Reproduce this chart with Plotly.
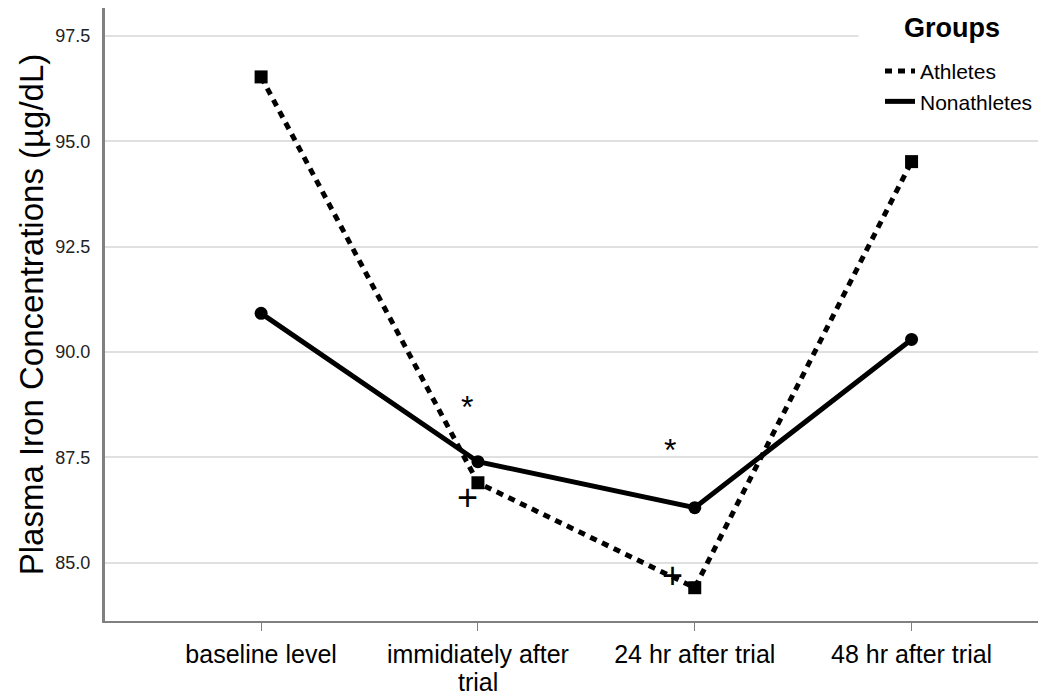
import plotly.graph_objects as go

categories = ["baseline level", "immidiately after trial", "24 hr after trial", "48 hr after trial"]
tick_line1 = ["baseline level", "immidiately after", "24 hr after trial", "48 hr after trial"]
tick_line2 = ["", "trial", "", ""]
athletes = [96.53, 86.9, 84.41, 94.52]
nonathletes = [90.92, 87.4, 86.31, 90.3]
star_pos = [0.95, 1.887]
star_vals = [88.83, 87.81]
plus_pos = [0.95, 1.897]
plus_vals = [86.6, 84.74]
y_ticks = [85.0, 87.5, 90.0, 92.5, 95.0, 97.5]

xi = list(range(len(categories)))
FONT = "Liberation Sans, Arial, sans-serif"

fig = go.Figure()
fig.add_trace(go.Scatter(x=xi, y=athletes, mode="lines", name="Athletes",
                         line=dict(color="black", width=5, dash="7px,6px")))
fig.add_trace(go.Scatter(x=xi, y=nonathletes, mode="lines", name="Nonathletes",
                         line=dict(color="black", width=5)))
fig.add_trace(go.Scatter(x=xi, y=athletes, mode="markers", showlegend=False,
                         marker=dict(symbol="square", size=13, color="black")))
fig.add_trace(go.Scatter(x=xi, y=nonathletes, mode="markers", showlegend=False,
                         marker=dict(symbol="circle", size=13, color="black")))

for cx, cy in zip(star_pos, star_vals):
    fig.add_annotation(x=cx, y=cy, text="*", showarrow=False,
                       font=dict(family=FONT, size=32, color="black"), yshift=-6)
for cx, cy in zip(plus_pos, plus_vals):
    fig.add_annotation(x=cx, y=cy, text="+", showarrow=False,
                       font=dict(family=FONT, size=36, color="black"), yshift=-2)

# second line of wrapped category labels
for i, t in enumerate(tick_line2):
    if t:
        fig.add_annotation(x=i, y=0, xref="x", yref="paper", text=t, showarrow=False,
                           yanchor="middle", yshift=-61, borderpad=0,
                           font=dict(family=FONT, size=25, color="black"))

# legend title
fig.add_annotation(x=1.0, xref="paper", xanchor="right", y=1.0, yref="paper",
                   yanchor="top", yshift=2, text="<b>Groups</b>", showarrow=False,
                   width=184, height=40, align="center", valign="middle",
                   bgcolor="white",
                   font=dict(family=FONT, size=27, color="black"))

fig.update_layout(
    width=1038, height=688,
    margin=dict(l=97, r=0, t=0, b=75),
    paper_bgcolor="white", plot_bgcolor="white",
    font=dict(family=FONT, color="black"),
    showlegend=True,
    legend=dict(
        x=0.8236, xanchor="left", y=0.93, yanchor="top",
        bgcolor="white", borderwidth=0,
        font=dict(family=FONT, size=21, color="black"),
        tracegroupgap=0, itemwidth=30,
    ),
    xaxis=dict(
        tickmode="array", tickvals=xi, ticktext=tick_line1,
        range=[-0.72, 3.62],
        showgrid=False, zeroline=False,
        showline=True, linecolor="#808080", linewidth=2,
        ticks="outside", ticklen=8, tickcolor="#808080", tickwidth=1,
        ticklabelstandoff=2,
        tickfont=dict(family=FONT, size=25, color="black"),
    ),
    yaxis=dict(
        range=[83.62, 98.165],
        tickmode="array", tickvals=y_ticks, tickformat=".1f",
        showgrid=True, gridcolor="#e0e0e0", gridwidth=1.5,
        zeroline=False,
        showline=True, linecolor="#808080", linewidth=3,
        ticks="", ticklabelstandoff=8,
        tickfont=dict(family=FONT, size=18, color="#222222"),
        title=dict(text="Plasma Iron Concentrations (µg/dL)",
                   font=dict(family=FONT, size=33, color="black"), standoff=2),
    ),
)

fig.write_html("out.html")
